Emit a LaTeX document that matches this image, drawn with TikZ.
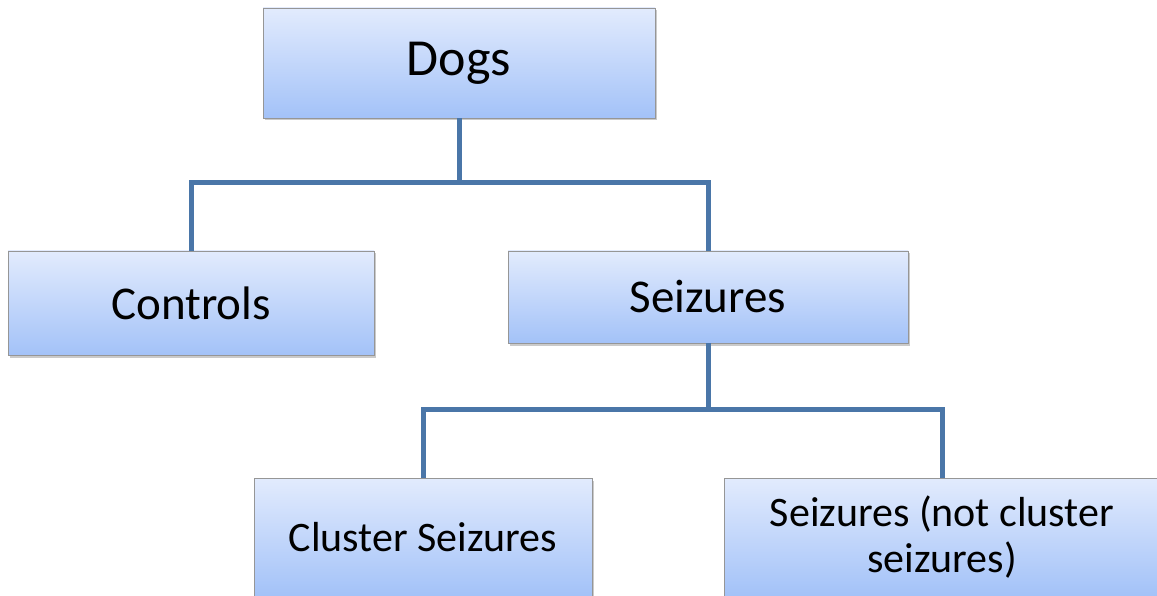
\documentclass[tikz,border=0pt]{standalone}
\usepackage{fontspec}
\setmainfont{Carlito}
\usetikzlibrary{shadows}
\definecolor{boxtop}{RGB}{226,235,253}
\definecolor{boxbot}{RGB}{163,194,248}
\definecolor{boxline}{RGB}{150,150,150}
\definecolor{conn}{RGB}{74,118,168}
\tikzset{
  box/.style={rectangle, draw=boxline, line width=0.8pt, top color=boxtop, bottom color=boxbot,
    inner sep=0pt, align=center, text=black,
    drop shadow={shadow xshift=2pt, shadow yshift=-2.5pt, opacity=0.35, fill=black!60}},
  link/.style={draw=conn, line width=5pt},
}
\begin{document}
\begin{tikzpicture}[x=1pt,y=-1pt]
\useasboundingbox (0,0) rectangle (1157,596);
\node[box, minimum width=392pt, minimum height=110pt, font=\fontsize{52}{60}\selectfont] (dogs) at (459,63) {Dogs};
\node[box, minimum width=366pt, minimum height=104pt, font=\fontsize{47}{56}\selectfont] (controls) at (191,303) {Controls};
\node[box, minimum width=400pt, minimum height=92pt, font=\fontsize{47}{56}\selectfont] (seizures) at (708,297) {Seizures};
\node[box, minimum width=338pt, minimum height=118pt, font=\fontsize{42}{46}\selectfont] (cluster) at (423,537) {Cluster Seizures};
\node[box, minimum width=436pt, minimum height=118pt, font=\fontsize{42}{46}\selectfont] (notcluster) at (942,537) {Seizures (not cluster\\seizures)};
\coordinate (j1) at (459,183);
\coordinate (j2) at (708,409);
\draw[link] (dogs.south) -- (j1) -| (controls.north);
\draw[link] (j1) -| (seizures.north);
\draw[link] (seizures.south) -- (j2) -| (cluster.north);
\draw[link] (j2) -| (notcluster.north);
\end{tikzpicture}
\end{document}
